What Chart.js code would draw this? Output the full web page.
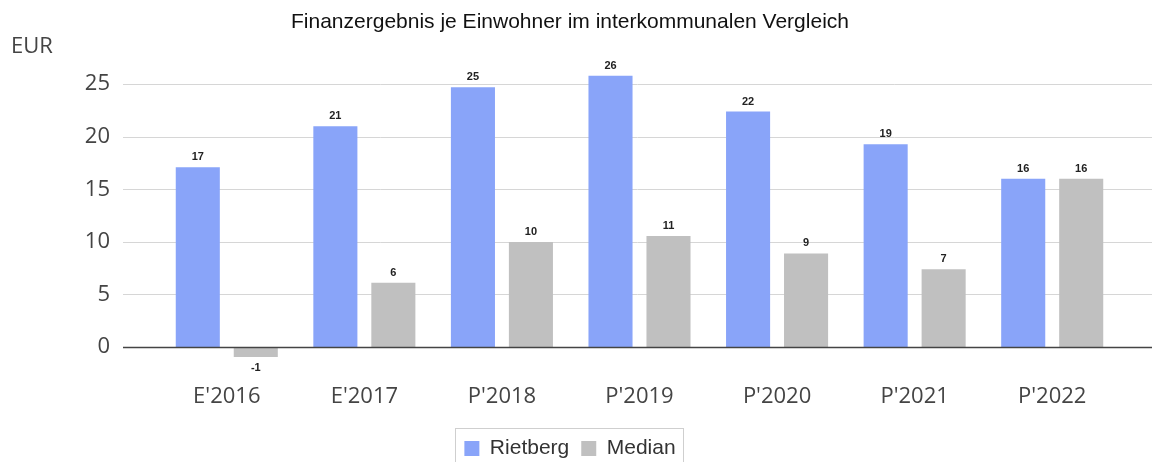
<!DOCTYPE html>
<html>
<head>
<meta charset="utf-8">
<script src="https://cdn.jsdelivr.net/npm/chart.js@4/dist/chart.umd.min.js"></script>
<style>
  html, body { margin: 0; padding: 0; background: #fff; }
  #wrap { width: 1155px; height: 462px; }
</style>
</head>
<body>
<div id="wrap"><canvas id="barChart"></canvas></div>
<script>
const years = ["E'2016", "E'2017", "P'2018", "P'2019", "P'2020", "P'2021", "P'2022"];
const rietberg = [17.1, 21.0, 24.7, 25.8, 22.4, 19.3, 16.0];
const median = [-0.95, 6.1, 10.0, 10.55, 8.9, 7.4, 16.0];
const yTicks = [0, 5, 10, 15, 20, 25];

// horizontal gridlines run wider than the bar area, like the original
const gridPlugin = {
    id: 'wideGrid',
    beforeDatasetsDraw(chart) {
        const ctx = chart.ctx, y = chart.scales.y;
        ctx.save();
        ctx.strokeStyle = '#d6d6d6';
        ctx.lineWidth = 1;
        yTicks.forEach(v => {
            if (v === 0) return;
            const py = Math.round(y.getPixelForValue(v)) + 0.5;
            ctx.beginPath();
            ctx.moveTo(123, py);
            ctx.lineTo(1152, py);
            ctx.stroke();
        });
        ctx.restore();
    },
    afterDatasetsDraw(chart) {
        const ctx = chart.ctx, y = chart.scales.y;
        ctx.save();
        // zero line
        const py = Math.round(y.getPixelForValue(0)) + 0.5;
        ctx.strokeStyle = '#444';
        ctx.lineWidth = 1.5;
        ctx.beginPath();
        ctx.moveTo(123, py);
        ctx.lineTo(1152, py);
        ctx.stroke();

        // value labels
        ctx.fillStyle = '#222';
        ctx.font = 'bold 11px "Liberation Sans", Arial, sans-serif';
        ctx.textAlign = 'center';
        ctx.textBaseline = 'middle';
        chart.data.datasets.forEach((ds, di) => {
            chart.getDatasetMeta(di).data.forEach((bar, i) => {
                const v = ds.data[i];
                const ty = v >= 0 ? bar.y - 10 : bar.y + 11;
                ctx.fillText(Math.round(v), bar.x, ty);
            });
        });

        // unit label
        ctx.fillStyle = '#444';
        ctx.font = '22px "Open Sans", sans-serif';
        ctx.textAlign = 'left';
        ctx.fillText('EUR', 11, 47);
        ctx.restore();
    },
    afterDraw(chart) {
        // frame round the legend
        const boxes = chart.legend.legendHitBoxes;
        if (!boxes || !boxes.length) return;
        const ctx = chart.ctx;
        const first = boxes[0], last = boxes[boxes.length - 1];
        ctx.save();
        ctx.strokeStyle = '#cfcfcf';
        ctx.lineWidth = 1;
        ctx.strokeRect(Math.round(first.left) - 8.5, 428.5,
            Math.round(last.left + last.width - first.left) + 17, 40);
        ctx.restore();
    }
};

const ctx = document.getElementById('barChart').getContext('2d');
const myChart = new Chart(ctx, {
    type: 'bar',
    data: {
        labels: years,
        datasets: [{
            label: 'Rietberg',
            data: rietberg,
            backgroundColor: '#89a4f9',
            borderWidth: 0
        }, {
            label: 'Median',
            data: median,
            backgroundColor: '#c0c0c0',
            borderWidth: 0
        }]
    },
    options: {
        responsive: true,
        maintainAspectRatio: false,
        animation: false,
        categoryPercentage: 0.843,
        barPercentage: 0.76,
        layout: {
            padding: { left: 19, right: 34, top: 0, bottom: -7 }
        },
        plugins: {
            title: {
                display: true,
                text: 'Finanzergebnis je Einwohner im interkommunalen Vergleich',
                color: '#111',
                font: { family: '"Liberation Sans", Arial, sans-serif', size: 21, weight: 'normal' },
                padding: { top: 10, bottom: 28 }
            },
            legend: {
                position: 'bottom',
                labels: {
                    boxWidth: 15,
                    boxHeight: 15,
                    padding: 12,
                    color: '#333',
                    font: { family: '"Liberation Sans", Arial, sans-serif', size: 21 }
                }
            },
            tooltip: { enabled: false }
        },
        scales: {
            x: {
                grid: { display: false },
                border: { display: false },
                ticks: {
                    color: '#444',
                    padding: 8,
                    font: { family: '"Open Sans", sans-serif', size: 22 }
                },
                afterFit(scale) { scale.height = 58; }
            },
            y: {
                min: -2,
                max: 27,
                grid: { display: false },
                border: { display: false },
                ticks: {
                    color: '#444',
                    padding: 40,
                    font: { family: '"Open Sans", sans-serif', size: 22 }
                },
                afterBuildTicks(scale) {
                    scale.ticks = yTicks.map(v => ({ value: v }));
                },
                afterFit(scale) { scale.width = 139; }
            }
        }
    },
    plugins: [gridPlugin]
});
</script>
</body>
</html>
